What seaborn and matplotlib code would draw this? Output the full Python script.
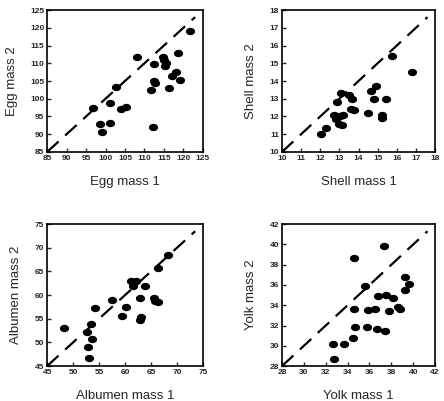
import matplotlib
matplotlib.use("Agg")
import matplotlib.pyplot as plt
import seaborn as sns
import pandas as pd
import numpy as np
from matplotlib.path import Path

sns.set_style("white")
plt.rcParams['font.family'] = ['Liberation Sans', 'DejaVu Sans']

egg1 = [96.8, 98.5, 99.2, 101.1, 101.2, 102.8, 104.1, 105.3, 108.1, 112.4, 112.4, 112.8,
        111.8, 112.2, 114.7, 115.0, 115.6, 115.2, 116.2, 117.0, 118.2, 118.6, 119.0, 121.7]
egg2 = [97.5, 93.0, 90.5, 98.8, 93.2, 103.2, 97.0, 97.7, 111.7, 109.7, 105.0, 104.3,
        102.6, 91.9, 111.7, 110.8, 110.0, 109.2, 102.9, 106.4, 107.6, 112.8, 105.3, 119.0]

shell1 = [12.03, 12.28, 12.89, 13.1, 13.48, 13.65, 12.7, 12.87, 12.8, 13.04, 13.2, 13.0,
          13.13, 13.6, 13.74, 14.52, 14.64, 14.92, 14.83, 15.43, 15.22, 15.25, 15.77, 16.8]
shell2 = [11.0, 11.33, 12.82, 13.33, 13.23, 13.0, 12.1, 12.0, 11.87, 12.0, 12.1, 11.6,
          11.5, 12.45, 12.34, 12.2, 13.42, 13.7, 13.0, 13.0, 12.1, 11.9, 15.42, 14.5]

alb1 = [48.3, 52.7, 52.9, 53.0, 53.6, 53.4, 54.3, 57.5, 59.4, 60.1, 61.1, 61.5,
        62.1, 62.8, 63.1, 62.9, 63.9, 65.5, 65.7, 66.4, 66.3, 68.2]
alb2 = [53.05, 52.3, 49.0, 46.8, 50.8, 54.0, 57.3, 58.9, 55.5, 57.5, 63.0, 61.9,
        62.9, 59.5, 55.4, 54.7, 61.9, 59.5, 58.8, 58.5, 65.8, 68.4]

yolk1 = [32.66, 32.8, 33.66, 34.48, 34.57, 34.6, 34.7, 35.55, 35.8, 35.9, 36.5, 36.77,
         36.7, 37.43, 37.5, 37.37, 37.83, 38.13, 38.65, 38.8, 39.26, 39.57, 39.26]
yolk2 = [30.2, 28.7, 30.2, 30.8, 33.67, 38.67, 31.82, 35.94, 31.82, 33.57, 33.67, 34.92,
         31.7, 31.46, 34.98, 39.82, 33.4, 34.75, 33.83, 33.6, 36.8, 36.13, 35.48]

panels = [
    ("Egg mass 1", "Egg mass 2", egg1, egg2, 85, 125, 5),
    ("Shell mass 1", "Shell mass 2", shell1, shell2, 10, 18, 1),
    ("Albumen mass 1", "Albumen mass 2", alb1, alb2, 45, 75, 5),
    ("Yolk mass 1", "Yolk mass 2", yolk1, yolk2, 28, 42, 2),
]

positions = [
    [0.106, 0.621, 0.351, 0.354],
    [0.635, 0.621, 0.345, 0.354],
    [0.106, 0.087, 0.351, 0.354],
    [0.635, 0.087, 0.345, 0.354],
]

# slightly wide ellipse marker
t = np.linspace(0, 2 * np.pi, 40)
ell = Path(np.column_stack([1.15 * np.cos(t), 0.92 * np.sin(t)]), closed=True)

fig = plt.figure(figsize=(4.44, 4.01), dpi=100)

for (xl, yl, xs, ys, lo, hi, step), pos in zip(panels, positions):
    ax = fig.add_axes(pos)
    df = pd.DataFrame({"x": xs, "y": ys})
    sns.scatterplot(data=df, x="x", y="y", ax=ax, color="black", s=44,
                    marker=ell, edgecolor="black", linewidth=0)
    end = hi - 0.05 * (hi - lo)
    ax.plot([lo, end], [lo, end], color="black", lw=1.6, dashes=(7, 4))
    ax.set_xlim(lo, hi)
    ax.set_ylim(lo, hi)
    ticks = list(range(lo, hi + 1, step))
    ax.set_xticks(ticks)
    ax.set_yticks(ticks)
    ax.tick_params(direction="in", length=3, width=1, labelsize=6, pad=2,
                   bottom=True, left=True, top=False, right=False)
    for lab in ax.get_xticklabels() + ax.get_yticklabels():
        lab.set_fontweight("bold")
    for sp in ax.spines.values():
        sp.set_visible(True)
        sp.set_color("black")
        sp.set_linewidth(1.2)
    ax.set_xlabel(xl, fontsize=9.5, labelpad=10)
    ax.set_ylabel(yl, fontsize=9.5, labelpad=9)

fig.savefig("out.png", dpi=100)
